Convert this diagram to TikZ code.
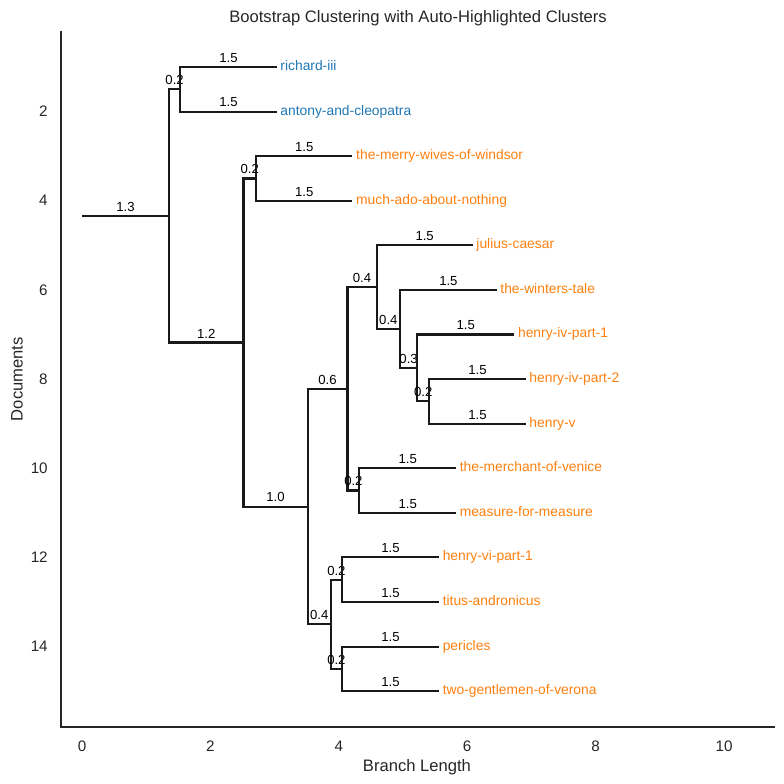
\documentclass[tikz,border=0pt]{standalone}
\usepackage{fontspec}
\setmainfont{Liberation Sans}
\usetikzlibrary{positioning}

\definecolor{clblue}{HTML}{1F77B4}
\definecolor{clorange}{HTML}{FF7F0E}
\definecolor{ink}{HTML}{262626}

\begin{document}
\begin{tikzpicture}[x=0.642in,y=-0.4458in,
  br/.style={line width=1.5pt,black!90},
  bl/.style={font=\fontsize{9.5}{10}\selectfont,black,above,inner sep=2.5pt},
  leafb/.style={font=\fontsize{10}{12}\selectfont,text=clblue,anchor=west,inner sep=2.5pt,text height=7pt,text depth=2pt},
  leafo/.style={leafb,text=clorange},
  ticklbl/.style={font=\fontsize{11}{13}\selectfont,text=ink,inner sep=0pt}]
\useasboundingbox (-1.2773,-0.5035) rectangle (10.9346,17.083);

% axes
\draw[line width=1.25pt,ink] (-0.327,0.2) -- (-0.327,15.8) -- (10.79,15.8);
\foreach \v in {0,2,...,10} \node[ticklbl] (xt\v) at (\v,16.24) {\v};
\foreach \v in {2,4,...,14} \node[ticklbl,anchor=east] (yt\v) at (-0.53,\v) {\v};
\node[font=\fontsize{12}{14}\selectfont,text=ink] (xlab) at (5.218,16.715) {Branch Length};
\node[font=\fontsize{12}{14}\selectfont,text=ink,rotate=90] (ylab) at (-1.0125,8) {Documents};
\node[font=\fontsize{12}{14}\selectfont,text=ink] (title) at (5.234,-0.086) {Bootstrap Clustering with Auto-Highlighted Clusters};

% junctions
\coordinate (root) at (0,4.34);
\coordinate (n1) at (1.355,4.34);
\coordinate (nA) at (1.53,1.5);
\coordinate (n12) at (2.515,7.18);
\coordinate (nMM) at (2.71,3.5);
\coordinate (n10) at (3.515,10.859);
\coordinate (n06) at (4.135,8.219);
\coordinate (n04a) at (4.588,5.9375);
\coordinate (n04b) at (4.955,6.875);
\coordinate (n03) at (5.22,7.75);
\coordinate (n02h) at (5.41,8.5);
\coordinate (n02m) at (4.32,10.5);
\coordinate (n04c) at (3.875,13.5);
\coordinate (n02v) at (4.05,12.5);
\coordinate (n02p) at (4.05,14.5);

% leaves
\node[leafb] (lRich) at (3.033,1) {richard-iii};
\node[leafb] (lAnt) at (3.033,2) {antony-and-cleopatra};
\node[leafo] (lMerry) at (4.213,3) {the-merry-wives-of-windsor};
\node[leafo] (lMuch) at (4.213,4) {much-ado-about-nothing};
\node[leafo] (lJul) at (6.086,5) {julius-caesar};
\node[leafo] (lWint) at (6.459,6) {the-winters-tale};
\node[leafo] (lHfour1) at (6.734,7) {henry-iv-part-1};
\node[leafo] (lHfour2) at (6.911,8) {henry-iv-part-2};
\node[leafo] (lHfive) at (6.911,9) {henry-v};
\node[leafo] (lMerch) at (5.826,10) {the-merchant-of-venice};
\node[leafo] (lMeas) at (5.826,11) {measure-for-measure};
\node[leafo] (lHsix) at (5.561,12) {henry-vi-part-1};
\node[leafo] (lTitus) at (5.561,13) {titus-andronicus};
\node[leafo] (lPer) at (5.561,14) {pericles};
\node[leafo] (lTwo) at (5.561,15) {two-gentlemen-of-verona};

% branches
\draw[br] (root) -- node[bl]{1.3} (n1);
\draw[br] (n1) |- node[bl,pos=0.75]{0.2} (nA);
\draw[br] (n1) |- node[bl,pos=0.75]{1.2} (n12);
\draw[br] (nA) |- node[bl,pos=0.75]{1.5} (lRich.west);
\draw[br] (nA) |- node[bl,pos=0.75]{1.5} (lAnt.west);
\draw[br] (n12) |- node[bl,pos=0.75]{0.2} (nMM);
\draw[br] (n12) |- node[bl,pos=0.75]{1.0} (n10);
\draw[br] (nMM) |- node[bl,pos=0.75]{1.5} (lMerry.west);
\draw[br] (nMM) |- node[bl,pos=0.75]{1.5} (lMuch.west);
\draw[br] (n10) |- node[bl,pos=0.75]{0.6} (n06);
\draw[br] (n10) |- node[bl,pos=0.75]{0.4} (n04c);
\draw[br] (n06) |- node[bl,pos=0.75]{0.4} (n04a);
\draw[br] (n06) |- node[bl,pos=0.75]{0.2} (n02m);
\draw[br] (n04a) |- node[bl,pos=0.75]{1.5} (lJul.west);
\draw[br] (n04a) |- node[bl,pos=0.75]{0.4} (n04b);
\draw[br] (n04b) |- node[bl,pos=0.75]{1.5} (lWint.west);
\draw[br] (n04b) |- node[bl,pos=0.75]{0.3} (n03);
\draw[br] (n03) |- node[bl,pos=0.75]{1.5} (lHfour1.west);
\draw[br] (n03) |- node[bl,pos=0.75]{0.2} (n02h);
\draw[br] (n02h) |- node[bl,pos=0.75]{1.5} (lHfour2.west);
\draw[br] (n02h) |- node[bl,pos=0.75]{1.5} (lHfive.west);
\draw[br] (n02m) |- node[bl,pos=0.75]{1.5} (lMerch.west);
\draw[br] (n02m) |- node[bl,pos=0.75]{1.5} (lMeas.west);
\draw[br] (n04c) |- node[bl,pos=0.75]{0.2} (n02v);
\draw[br] (n04c) |- node[bl,pos=0.75]{0.2} (n02p);
\draw[br] (n02v) |- node[bl,pos=0.75]{1.5} (lHsix.west);
\draw[br] (n02v) |- node[bl,pos=0.75]{1.5} (lTitus.west);
\draw[br] (n02p) |- node[bl,pos=0.75]{1.5} (lPer.west);
\draw[br] (n02p) |- node[bl,pos=0.75]{1.5} (lTwo.west);
\end{tikzpicture}
\end{document}
